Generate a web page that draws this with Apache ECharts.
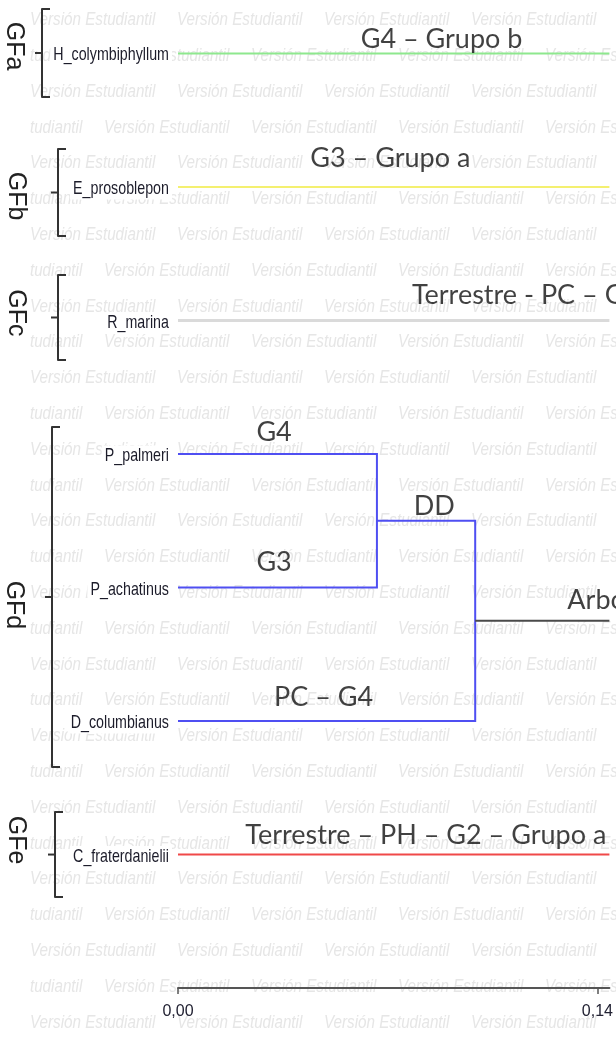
<!DOCTYPE html>
<html><head><meta charset="utf-8">
<script src="https://cdn.jsdelivr.net/npm/echarts@6/dist/echarts.min.js"></script>
<style>html,body{margin:0;padding:0;background:#fff}#c{width:616px;height:1038px}</style>
</head><body><div id="c"></div>
<script>
// ---- data ----
const leaves = ['H_colymbiphyllum','E_prosoblepon','R_marina','P_palmeri','P_achatinus','D_columbianus','C_fraterdanielii'];
const mergeDD = 0.0664;   // P_palmeri + P_achatinus
const mergeTop = 0.0992;  // (P_palmeri, P_achatinus) + D_columbianus
const axisMax = 0.144;
const xTicks = [0, 0.14];
const groupNames = ['GFa','GFb','GFc','GFd','GFe'];
const groupTop = [-0.333, 0.716, 1.660, 2.798, 5.682];
const groupBottom = [0.327, 1.368, 2.296, 5.345, 6.319];
const groupLabelY = [-0.055, 1.068, 1.944, 4.131, 5.892];
const noteTexts = ['G4 – Grupo b','G3 – Grupo a','Terrestre - PC – G','G4','G3','DD','Arbóreo','PC – G4','Terrestre – PH – G2 – Grupo a'];
const noteX = [0.0608, 0.0440, 0.0779, 0.0260, 0.0260, 0.0785, 0.1298, 0.0319, 0.0223];
const noteY = [-0.108, 0.783, 1.810, 2.836, 3.809, 3.390, 4.094, 4.821, 5.854];

// ---- styles / layout ----
const leafColors = {0:'#8ee88e', 1:'#f4f070', 2:'#dadada', 6:'#f04848'};
const leafWidths = {0:2, 1:2, 2:3, 6:2};
const blue = '#4f4ff2';
const bracketX = [42, 58, 58, 52, 55];
const groupLabelX = [14, 16, 16, 14, 16];
const sans = "'Liberation Sans', Arial, sans-serif";

const chart = echarts.init(document.getElementById('c'), null, {renderer:'canvas'});

const series = [];
[0,1,2,6].forEach(i => {
  series.push({type:'line', data:[[0,i],[axisMax,i]], symbol:'none', silent:true,
    lineStyle:{color:leafColors[i], width:leafWidths[i], cap:'butt'}, z:3});
});
const midDD = (3 + 4) / 2;
const midTop = (midDD + 5) / 2;
series.push({type:'line', data:[[0,3],[mergeDD,3],[mergeDD,4],[0,4]], symbol:'none', silent:true,
  lineStyle:{color:blue, width:2, join:'miter', cap:'butt'}, z:3});
series.push({type:'line', data:[[mergeDD,midDD],[mergeTop,midDD],[mergeTop,5],[0,5]], symbol:'none', silent:true,
  lineStyle:{color:blue, width:2, join:'miter', cap:'butt'}, z:3});
series.push({type:'line', data:[[mergeTop,midTop],[axisMax,midTop]], symbol:'none', silent:true,
  lineStyle:{color:'#4a4a4a', width:2, cap:'butt'}, z:3});

// leaf labels (condensed via scaleX)
series.push({type:'custom', clip:false, silent:true, z:5,
  data: leaves.map((n,i)=>[0,i]),
  encode:{x:0, y:1},
  renderItem:(params, api)=>{
    const p = api.coord([api.value(0), api.value(1)]);
    return {type:'text', x:p[0]-6, y:p[1]+2, scaleX:0.77,
      style:{text:leaves[params.dataIndex], font:"18.5px " + sans, fill:'#1c1c2a',
        align:'right', verticalAlign:'middle', backgroundColor:'#fff', padding:[1,4,1,4]}};
  }});

// annotations
series.push({type:'scatter', clip:false, silent:true, symbol:'circle', symbolSize:1,
  itemStyle:{color:'rgba(0,0,0,0)'}, z:6,
  data: noteTexts.map((t,i)=>[noteX[i], noteY[i], t]),
  label:{show:true, position:'right', distance:0, formatter:p=>p.data[2],
    fontFamily:'Lato, sans-serif', fontSize:27, color:'#111'}});

// group brackets
series.push({type:'custom', clip:false, silent:true, z:6,
  data: groupNames.map((g,i)=>[0, groupTop[i], groupBottom[i], groupLabelY[i], i]),
  encode:{x:0, y:1},
  renderItem:(params, api)=>{
    const i = api.value(4);
    const yT = api.coord([0, api.value(1)])[1];
    const yB = api.coord([0, api.value(2)])[1];
    const yL = api.coord([0, api.value(3)])[1];
    const yM = (yT + yB) / 2;
    const bx = bracketX[i];
    return {type:'group', children:[
      {type:'polyline', shape:{points:[[bx+8,yT],[bx,yT],[bx,yB],[bx+8,yB]]},
        style:{stroke:'#333', lineWidth:2, fill:'none', lineJoin:'round'}},
      {type:'line', shape:{x1:bx-7, y1:yM, x2:bx, y2:yM}, style:{stroke:'#333', lineWidth:2}},
      {type:'text', x:groupLabelX[i], y:yL, rotation:-Math.PI/2,
        style:{text:groupNames[i], font:"25px " + sans, fill:'#222',
          align:'center', verticalAlign:'middle'}}
    ]};
  }});

// watermark
const wm = [];
for (let k = 0; k < 30; k++) {
  const y = 20 + k * 35.8;
  const x0 = k % 2 === 0 ? 30 : -43;
  for (let x = x0; x < 616; x += 147) {
    wm.push({type:'text', x:x, y:y, z:-2, silent:true, scaleX:0.8,
      style:{text:'Versión Estudiantil', font:"italic 19px " + sans,
        fill:'#e6e6e6', verticalAlign:'middle'}});
  }
}
wm.push({type:'rect', z:-1, silent:true, shape:{x:0, y:0, width:30, height:1038}, style:{fill:'#fff'}});

chart.setOption({
  animation:false,
  backgroundColor:'#fff',
  grid:{left:178, right:0, top:0, bottom:50, containLabel:false},
  xAxis:{type:'value', min:0, max:axisMax,
    axisLine:{show:true, onZero:false, lineStyle:{color:'#555', width:2}},
    axisTick:{show:true, length:6, customValues:xTicks, lineStyle:{color:'#555', width:1.5}},
    axisLabel:{customValues:xTicks, margin:16, formatter:v=>v.toFixed(2).replace('.', ','),
      fontFamily:sans, fontSize:16, color:'#222233'},
    splitLine:{show:false}},
  yAxis:{type:'value', inverse:true, min:-0.4, max:7, show:false},
  graphic:{elements:wm},
  series:series
});
</script>
</body></html>
